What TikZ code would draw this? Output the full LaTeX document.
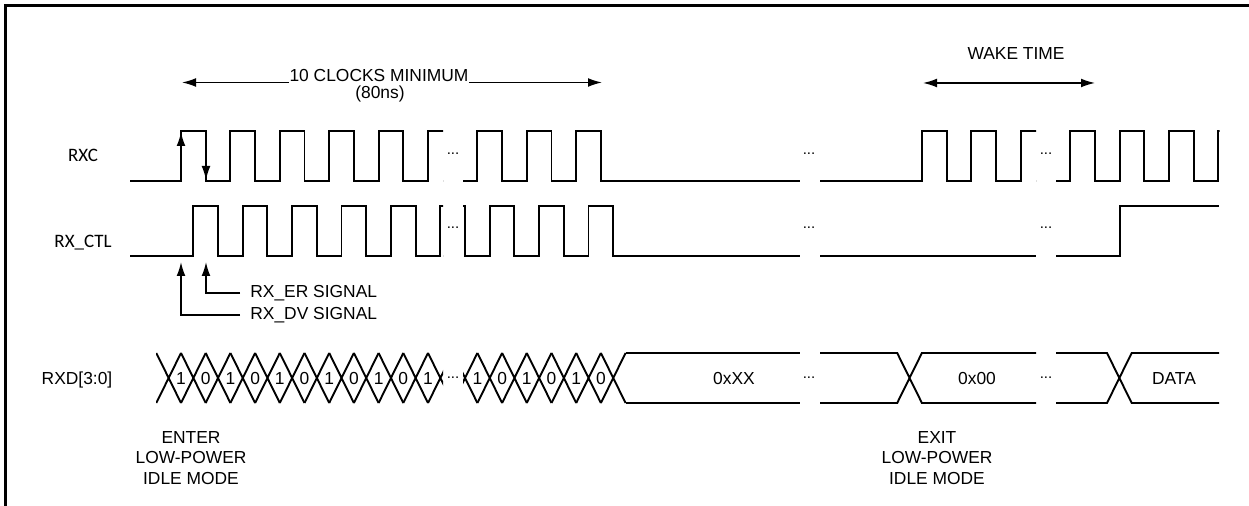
\documentclass[tikz,border=0pt]{standalone}
\usepackage{fontspec}
\setmainfont{Liberation Sans}
\newfontfamily\carlito{Carlito}
\usetikzlibrary{arrows.meta}
\newcommand\clockseg[6]{%
  \begin{scope}
    \clip (#1,0) rectangle (#2,506);
    \draw[wave] (#1,#3) \foreach \k in {#6} {
      -- ({#5+49.4*\k},#3) -- ({#5+49.4*\k},#4)
      -- ({#5+49.4*\k+24.7},#4) -- ({#5+49.4*\k+24.7},#3)} -- (#2,#3);
  \end{scope}}
\newcommand\busx[3]{%
  \begin{scope}
    \clip (#1,0) rectangle (#2,506);
    \foreach \j in {#3}
      \draw[wave] ({156.3+24.7*\j},353) -- ++(24.7,50)
                  ({156.3+24.7*\j},403) -- ++(24.7,-50);
  \end{scope}}
\begin{document}
\begin{tikzpicture}[x=0.5pt,y=-0.5pt,>={Latex[length=7pt,width=4.4pt]},
    font=\fontsize{8.7}{10.25}\selectfont,
    wave/.style={line width=0.95pt,line join=miter},
    lbl/.style={inner sep=0pt,anchor=base},
    sig/.style={font=\carlito\fontsize{9.5}{11}\selectfont},
    dots/.style={inner sep=0pt,anchor=base,font=\fontsize{7.5}{8}\selectfont}]
    \useasboundingbox (0,0) rectangle (1249,506);
    \draw[line width=1.2pt] (5.5,506) -- (5.5,5.5) -- (1249,5.5);

    \node[lbl,sig] (rxc) at (83,162) {RXC};
    \node[lbl,sig] (rxctl) at (83,248) {RX\_CTL};
    \node[lbl] (rxd) at (77,385) {RXD[3:0]};

    \clockseg{130}{443}{181}{131}{181}{0,...,5}
    \clockseg{463}{800}{181}{131}{181}{6,7,8}
    \clockseg{820}{1036}{181}{131}{181}{15,16,17}
    \clockseg{1056}{1219.5}{181}{131}{181}{18,...,21}
    \draw[->,line width=0.7pt] (181,181) -- (181,132);
    \draw[->,line width=0.7pt] (206,131) -- (206,180);

    \clockseg{130}{443}{256}{206}{193.3}{0,...,5}
    \clockseg{463}{800}{256}{206}{193.3}{5,...,8}
    \draw[wave] (820,256) -- (1036,256);
    \draw[wave] (1056,256) -- (1120,256) -- (1120,206) -- (1219,206);

    \coordinate (erTip) at (206,262);
    \coordinate (dvTip) at (181,262);
    \coordinate (erFoot) at (240,293);
    \coordinate (dvFoot) at (240,315);
    \node[lbl,anchor=base west] (er) at (250,298) {RX\_ER SIGNAL};
    \node[lbl,anchor=base west] (dv) at (250,320) {RX\_DV SIGNAL};
    \draw[->,line width=0.7pt] (erFoot) -| (erTip);
    \draw[->,line width=0.7pt] (dvFoot) -| (dvTip);

    \busx{156}{443}{0,...,11}
    \busx{463}{700}{12,...,18}
    \draw[wave] (625.6,353) -- (800,353) (625.6,403) -- (800,403);
    \draw[wave] (820,353) -- (897.2,353) -- (921.9,403) -- (1036,403)
                (820,403) -- (897.2,403) -- (921.9,353) -- (1036,353);
    \draw[wave] (1056,353) -- (1107,353) -- (1131.7,403) -- (1219,403)
                (1056,403) -- (1107,403) -- (1131.7,353) -- (1219,353);
    \foreach \i in {0,...,10,12,13,...,17}
      \node[lbl] (bit\i) at ({181+24.7*\i},385)
        {\pgfmathparse{int(mod(\i+1,2))}\pgfmathresult};
    \node[lbl] (xx) at (734,385) {0xXX};
    \node[lbl] (zero) at (977,385) {0x00};
    \node[lbl] (data) at (1174,385) {DATA};

    \foreach \x in {453,809,1046}
      \foreach \y/\n in {155/c,229/t,379/d}
        \node[dots] (dots\n\x) at (\x,\y) {...};

    \node[lbl] (clk) at (379,82) {10 CLOCKS MINIMUM};
    \node[lbl] (ns) at (380,99) {(80ns)};
    \coordinate (clkL) at (182,82.5);
    \coordinate (clkR) at (602,82.5);
    \draw[->,line width=0.7pt] (clk.west |- clkL) -- (clkL);
    \draw[->,line width=0.7pt] (clk.east |- clkR) -- (clkR);
    \node[lbl] (wake) at (1016,60) {WAKE TIME};
    \coordinate (wakeL) at (923,83);
    \coordinate (wakeR) at (1095,83);
    \draw[<->,line width=0.7pt] (wakeL) -- (wakeR);

    \node[align=center,inner sep=0pt,anchor=north] (enter) at (191,431)
      {ENTER\\LOW-POWER\\IDLE MODE};
    \node[align=center,inner sep=0pt,anchor=north] (exit) at (937,431)
      {EXIT\\LOW-POWER\\IDLE MODE};
\end{tikzpicture}
\end{document}
